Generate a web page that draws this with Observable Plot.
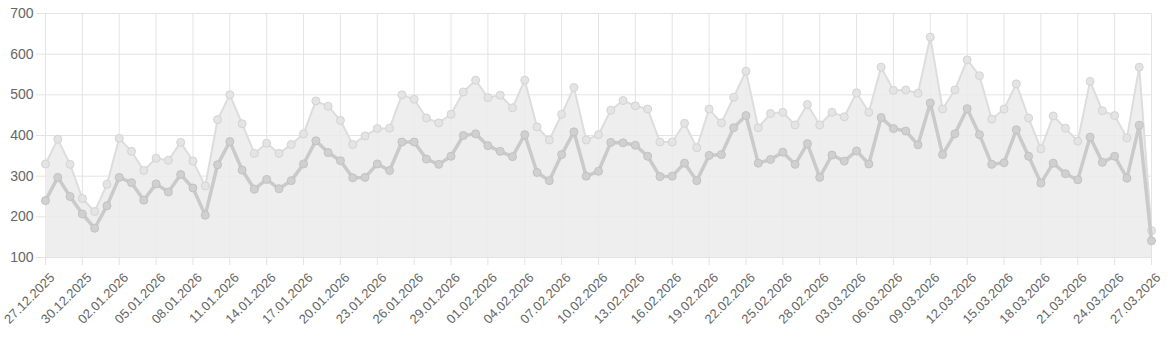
<!DOCTYPE html>
<html>
<head>
<meta charset="utf-8">
<script src="https://cdn.jsdelivr.net/npm/d3@7"></script>
<script src="https://cdn.jsdelivr.net/npm/@observablehq/plot@0.6"></script>
<style>
  html, body { margin: 0; padding: 0; background: #fff; }
  #chart svg { display: block; }
</style>
</head>
<body>
<div id="chart"></div>
<script>
// First day of the daily series (27.12.2025 … 27.03.2026)
const startDate = "27.12.2025";

// Upper series (light line with filled area)
const upper = [
  330, 391, 329, 245, 213, 280, 393, 361, 314, 344,
  339, 383, 337, 276, 439, 500, 429, 356, 381, 356,
  378, 404, 485, 472, 437, 378, 399, 417, 418, 500,
  489, 443, 431, 452, 507, 536, 493, 499, 468, 536,
  421, 389, 452, 518, 389, 402, 462, 486, 473, 465,
  384, 384, 430, 370, 465, 431, 494, 558, 419, 454,
  457, 426, 476, 426, 457, 446, 505, 457, 568, 511,
  512, 504, 642, 465, 512, 586, 547, 440, 465, 527,
  443, 367, 448, 418, 386, 533, 461, 449, 394, 568,
  166
];

// Lower series (darker line)
const lower = [
  240, 297, 250, 207, 172, 227, 297, 284, 241, 281,
  261, 304, 271, 204, 328, 385, 315, 268, 292, 269,
  289, 330, 387, 358, 338, 296, 297, 330, 314, 384,
  384, 342, 329, 349, 400, 404, 375, 361, 348, 402,
  309, 289, 353, 409, 300, 312, 383, 382, 376, 349,
  299, 300, 332, 289, 351, 353, 419, 449, 332, 341,
  359, 329, 380, 297, 352, 337, 362, 330, 444, 417,
  411, 377, 480, 353, 404, 466, 402, 329, 333, 414,
  349, 283, 332, 306, 291, 396, 334, 349, 295, 425,
  141
];

// X tick labels
const xTickLabels = [
  "27.12.2025", "30.12.2025", "02.01.2026", "05.01.2026", "08.01.2026",
  "11.01.2026", "14.01.2026", "17.01.2026", "20.01.2026", "23.01.2026",
  "26.01.2026", "29.01.2026", "01.02.2026", "04.02.2026", "07.02.2026",
  "10.02.2026", "13.02.2026", "16.02.2026", "19.02.2026", "22.02.2026",
  "25.02.2026", "28.02.2026", "03.03.2026", "06.03.2026", "09.03.2026",
  "12.03.2026", "15.03.2026", "18.03.2026", "21.03.2026", "24.03.2026",
  "27.03.2026"
];

// Y tick values
const yTicks = [100, 200, 300, 400, 500, 600, 700];

const parse = d3.utcParse("%d.%m.%Y");
const fmt = d3.utcFormat("%d.%m.%Y");
const start = parse(startDate);
const rows = upper.map((u, i) => ({ date: d3.utcDay.offset(start, i), upper: u, lower: lower[i] }));
const xTicks = xTickLabels.map(parse);

const gridColor = "#e3e3e3";
const textColor = "#666";

const chart = Plot.plot({
  width: 1168,
  height: 347,
  marginLeft: 45,
  marginRight: 17,
  marginTop: 13,
  marginBottom: 90,
  style: { fontFamily: "'Liberation Sans', Arial, Helvetica, sans-serif", background: "#fff" },
  x: { type: "utc", domain: [xTicks[0], xTicks[xTicks.length - 1]] },
  y: { domain: [100, 700] },
  marks: [
    Plot.ruleY(yTicks, { stroke: gridColor, strokeWidth: 1 }),
    Plot.ruleX(xTicks, { stroke: gridColor, strokeWidth: 1 }),
    Plot.areaY(rows, { x: "date", y1: 100, y2: "upper", fill: "#ebebeb", fillOpacity: 0.85 }),
    Plot.lineY(rows, { x: "date", y: "upper", stroke: "#dddddd", strokeWidth: 2 }),
    Plot.dot(rows, { x: "date", y: "upper", r: 4, fill: "#e4e4e4", stroke: "#d4d4d4", strokeWidth: 1 }),
    Plot.lineY(rows, { x: "date", y: "lower", stroke: "#cacaca", strokeWidth: 3.5 }),
    Plot.dot(rows, { x: "date", y: "lower", r: 4, fill: "#d0d0d0", stroke: "#c2c2c2", strokeWidth: 1 }),
    Plot.axisY({ ticks: yTicks, tickFormat: d => String(d), tickSize: 9, tickPadding: 3, fontSize: 14, fill: textColor, stroke: gridColor }),
    Plot.axisX({ ticks: xTicks, tickFormat: fmt, tickRotate: -45, tickSize: 8, tickPadding: 2, fontSize: 13, fill: textColor, stroke: gridColor, text: null }),
    Plot.axisX({ ticks: xTicks, tickFormat: fmt, tickRotate: -45, tickSize: 0, tickPadding: 10, fontSize: 13, fill: textColor, dx: 7, dy: 8 })
  ]
});

document.getElementById("chart").appendChild(chart);
</script>
</body>
</html>
